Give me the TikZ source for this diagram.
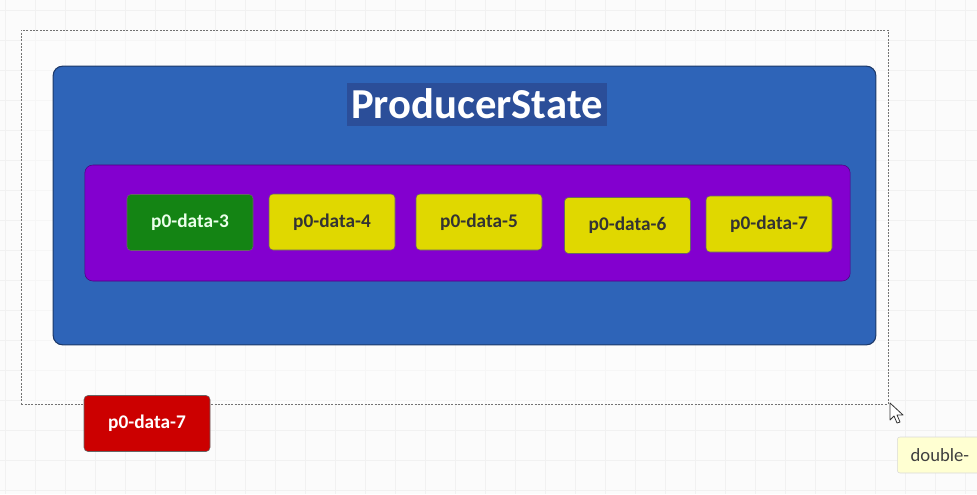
\documentclass[tikz,border=0pt]{standalone}
\usepackage{fontspec}
\setmainfont{Carlito}
\definecolor{bgc}{HTML}{FBFBFB}
\definecolor{gridc}{HTML}{F1F1F1}
\definecolor{bluec}{HTML}{2E64B8}
\definecolor{bluedk}{HTML}{2A5296}
\definecolor{selc}{HTML}{2B4E99}
\definecolor{purc}{HTML}{8300CF}
\definecolor{greenc}{HTML}{148414}
\definecolor{yelc}{HTML}{E0D800}
\definecolor{redc}{HTML}{CC0000}
\definecolor{tipc}{HTML}{FFFFD2}
\tikzset{
  databox/.style={draw=black!60, rounded corners=3pt, minimum width=94.5pt, minimum height=42pt, font=\bfseries\fontsize{14.5}{16}\selectfont, inner sep=0pt},
  yelbox/.style={databox, fill=yelc, text=black!80},
  grnbox/.style={databox, fill=greenc, text=white!92!green},
  redbox/.style={databox, fill=redc, text=white},
}
\begin{document}
\begin{tikzpicture}[x=0.75pt,y=-0.75pt]
\useasboundingbox (0,0) rectangle (977,494);
\fill[bgc] (0,0) rectangle (977,494);
\foreach \gx in {5,35,...,975} \draw[gridc, line width=0.5pt] (\gx,0) -- (\gx,494);
\foreach \gy in {10,40,...,490} \draw[gridc, line width=0.5pt] (0,\gy) -- (977,\gy);
% selection frame
\node[draw=black!55, dashed, dash pattern=on 1.5pt off 1pt, line width=0.5pt, minimum width=650pt, minimum height=280.5pt, inner sep=0pt, fill=white, fill opacity=0.4, text opacity=1] (sel) at (454.5,217) {};
% outer blue container
\node[draw=bluedk!70!black, fill=bluec, rounded corners=7pt, minimum width=617pt, minimum height=209pt, inner sep=0pt, line width=0.8pt] (outer) at (464.5,205.5) {};
\node[fill=selc, text=white, font=\bfseries\fontsize{32}{34}\selectfont, inner sep=0pt, minimum width=195pt, minimum height=32pt] (title) at (477,104.5) {\raisebox{1.5pt}{ProducerState}};
% purple container
\node[draw=purc!60!black, fill=purc, rounded corners=6pt, minimum width=574pt, minimum height=87pt, inner sep=0pt] (inner) at (467.5,223) {};
% data boxes
\node[grnbox] (d3) at (190,222.5) {p0-data-3};
\node[yelbox] (d4) at (332,222) {p0-data-4};
\node[yelbox] (d5) at (479,222) {p0-data-5};
\node[yelbox] (d6) at (627.5,225.5) {p0-data-6};
\node[yelbox] (d7) at (769,224) {p0-data-7};
% dragged box
\node[redbox] (r7) at (147,423.5) {p0-data-7};
% mouse cursor
\draw[fill=white, draw=black!80, line width=0.6pt, line join=round] (890,403) -- (890,420) -- (894,416) -- (897,423) -- (900,422) -- (897,415) -- (903,415) -- cycle;
% tooltip
\node[draw=black!15, fill=tipc, rounded corners=2pt, anchor=west, minimum height=27pt, minimum width=70pt, inner sep=0pt, text=black!75, font=\fontsize{14}{16}\selectfont, text width=62pt, align=left] (tip) at (897,455) {\hspace*{6pt}double-};
\end{tikzpicture}
\end{document}
